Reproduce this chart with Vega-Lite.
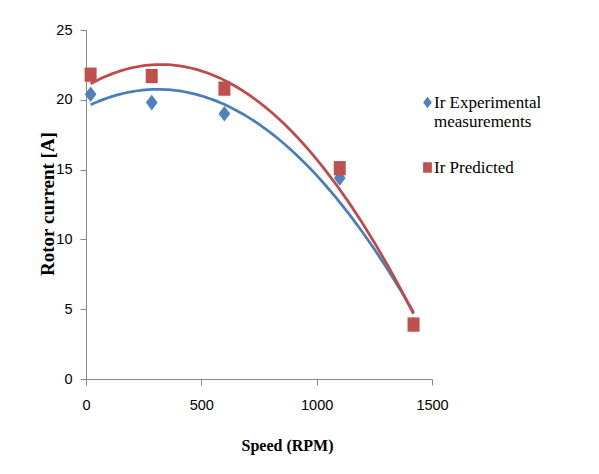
{
  "$schema": "https://vega.github.io/schema/vega-lite/v6.json",
  "width": 346,
  "height": 349,
  "autosize": {"type": "none"},
  "padding": {"left": 86, "top": 30, "right": 167, "bottom": 95},
  "background": "white",
  "config": {
    "view": {"stroke": null},
    "axis": {
      "grid": false,
      "domainColor": "#868686",
      "tickColor": "#868686",
      "tickSize": 6,
      "labelFont": "Liberation Sans",
      "labelFontSize": 14.5,
      "labelColor": "#000000",
      "titleFont": "Liberation Serif",
      "titleFontWeight": "bold",
      "titleColor": "#000000"
    }
  },
  "data": {
    "values": [
      {"series": "Ir Experimental measurements", "speed": 20, "current": 20.4},
      {"series": "Ir Experimental measurements", "speed": 285, "current": 19.8},
      {"series": "Ir Experimental measurements", "speed": 600, "current": 19.0},
      {"series": "Ir Experimental measurements", "speed": 1100, "current": 14.4},
      {"series": "Ir Experimental measurements", "speed": 1420, "current": 3.9},
      {"series": "Ir Predicted", "speed": 20, "current": 21.8},
      {"series": "Ir Predicted", "speed": 285, "current": 21.7},
      {"series": "Ir Predicted", "speed": 600, "current": 20.8},
      {"series": "Ir Predicted", "speed": 1100, "current": 15.1},
      {"series": "Ir Predicted", "speed": 1420, "current": 3.9}
    ]
  },
  "layer": [
    {
      "transform": [
        {"filter": "datum.series == 'Ir Experimental measurements'"},
        {"regression": "current", "on": "speed", "method": "poly", "order": 2}
      ],
      "mark": {"type": "line", "strokeWidth": 2.75, "color": "#4A7EBB"},
      "encoding": {
        "x": {"field": "speed", "type": "quantitative"},
        "y": {"field": "current", "type": "quantitative"}
      }
    },
    {
      "transform": [
        {"filter": "datum.series == 'Ir Predicted'"},
        {"regression": "current", "on": "speed", "method": "poly", "order": 2}
      ],
      "mark": {"type": "line", "strokeWidth": 2.75, "color": "#BE4B48"},
      "encoding": {
        "x": {"field": "speed", "type": "quantitative"},
        "y": {"field": "current", "type": "quantitative"}
      }
    },
    {
      "mark": {"type": "point", "filled": true, "opacity": 1, "size": 225},
      "encoding": {
        "x": {
          "field": "speed",
          "type": "quantitative",
          "scale": {"domain": [0, 1500], "nice": false},
          "axis": {
            "values": [0, 500, 1000, 1500],
            "format": "d",
            "title": "Speed (RPM)",
            "titleFontSize": 16,
            "labelPadding": 13,
            "labelFlush": false,
            "titleX": 201,
            "titleY": 71,
            "titleBaseline": "alphabetic",
            "titleAlign": "center"
          }
        },
        "y": {
          "field": "current",
          "type": "quantitative",
          "scale": {"domain": [0, 25], "nice": false},
          "axis": {
            "values": [0, 5, 10, 15, 20, 25],
            "title": "Rotor current  [A]",
            "titleFontSize": 19,
            "labelPadding": 8,
            "titleX": -33,
            "titleY": 173.5,
            "titleAngle": -90,
            "titleBaseline": "alphabetic",
            "titleAlign": "center"
          }
        },
        "color": {
          "field": "series",
          "type": "nominal",
          "scale": {"domain": ["Ir Experimental measurements", "Ir Predicted"], "range": ["#4F81BD", "#C0504D"]},
          "legend": {
            "title": null,
            "orient": "none",
            "legendX": 333,
            "legendY": 64,
            "padding": 0,
            "labelFont": "Liberation Serif",
            "labelFontSize": 17,
            "labelColor": "#000000",
            "symbolSize": 121,
            "labelOffset": -2,
            "rowPadding": 28,
            "labelExpr": "datum.label == 'Ir Experimental measurements' ? ['Ir Experimental', 'measurements'] : datum.label"
          }
        },
        "shape": {
          "field": "series",
          "type": "nominal",
          "scale": {"domain": ["Ir Experimental measurements", "Ir Predicted"], "range": ["M-0.78,0L0,-1.04L0.78,0L0,1.04Z", "M-0.8,-0.95L0.8,-0.95L0.8,0.95L-0.8,0.95Z"]},
          "legend": {
            "title": null,
            "orient": "none",
            "legendX": 333,
            "legendY": 64,
            "padding": 0,
            "labelFont": "Liberation Serif",
            "labelFontSize": 17,
            "labelColor": "#000000",
            "symbolSize": 121,
            "labelOffset": -2,
            "rowPadding": 28,
            "labelExpr": "datum.label == 'Ir Experimental measurements' ? ['Ir Experimental', 'measurements'] : datum.label"
          }
        }
      }
    }
  ]
}
